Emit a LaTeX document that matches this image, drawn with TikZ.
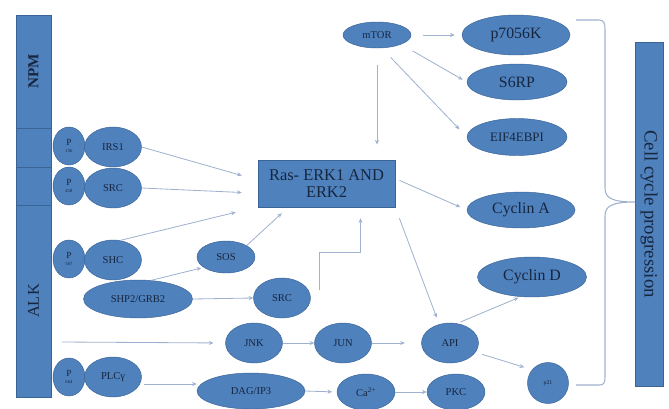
\documentclass[tikz,border=0pt]{standalone}
\usepackage{fontspec}
\setmainfont{Liberation Serif}
\usetikzlibrary{arrows.meta,positioning,shapes.geometric}
\definecolor{fillc}{HTML}{4F81BD}
\definecolor{bordc}{HTML}{3B6496}
\definecolor{arrc}{HTML}{9FB1CE}
\definecolor{txtc}{HTML}{17263F}

\begin{document}
\begin{tikzpicture}[x=0.03cm,y=-0.03cm,
  bub/.style={ellipse,draw=bordc,fill=fillc,inner sep=0pt,text=txtc,font=\fontsize{9}{10}\selectfont},
  mid/.style={bub,minimum width=1.71cm,minimum height=1.2cm},
  big/.style={bub,font=\fontsize{13.5}{15}\selectfont},
  pnode/.style={bub,minimum width=0.96cm,minimum height=1.14cm,align=center,font=\fontsize{8}{6}\selectfont},
  blk/.style={rectangle,draw=bordc,fill=fillc,inner sep=0pt,text=txtc},
  arr/.style={-{Stealth[length=4pt,width=3.5pt]},draw=arrc,line width=0.7pt},
  brk/.style={draw=arrc,line width=0.9pt}]
\useasboundingbox (0,0) rectangle (669,408);

% receptor
\node[blk,rotate=90,minimum width=3.39cm,minimum height=1.05cm,font=\bfseries\fontsize{13}{14}\selectfont] (npm) at (33.5,71.5) {NPM};
\node[blk,minimum width=1.05cm,minimum height=1.17cm] (boxa) at (33.5,147.5) {};
\node[blk,minimum width=1.05cm,minimum height=1.14cm] (boxb) at (33.5,186) {};
\node[blk,rotate=90,minimum width=5.76cm,minimum height=1.05cm,font=\fontsize{14}{15}\selectfont] (alk) at (33.5,301) {ALK};

% docking sites
\node[pnode] (pa) at (69,146) {P\\{\fontsize{4}{4}\selectfont 156}};
\node[mid] (irs) at (113,147) {IRS1};
\node[pnode] (pb) at (69,186) {P\\{\fontsize{4}{4}\selectfont 418}};
\node[mid] (src) at (113,188) {SRC};
\node[pnode] (pc) at (69,259) {P\\{\fontsize{4}{4}\selectfont 567}};
\node[mid] (shc) at (113,260) {SHC};
\node[pnode] (pd) at (69,377) {P\\{\fontsize{4}{4}\selectfont 664}};
\node[mid] (plc) at (113,377) {PLCγ};
\node[bub,minimum width=3.27cm,minimum height=1.14cm] (shp) at (138,299) {SHP2/GRB2};
\node[bub,minimum width=1.74cm,minimum height=0.96cm] (sos) at (226,257) {SOS};
\node[mid] (srcb) at (282,298) {SRC};
\node[mid] (jnk) at (254,343) {JNK};
\node[mid] (jun) at (343,343) {JUN};
\node[mid] (ap) at (450,343) {API};
\node[bub,minimum width=3.24cm,minimum height=1.08cm] (dag) at (251,391) {DAG/IP3};
\node[bub,minimum width=1.74cm,minimum height=1.08cm] (ca) at (366,392) {Ca\textsuperscript{2+}};
\node[bub,minimum width=1.74cm,minimum height=1.08cm] (pkc) at (456,392) {PKC};
\node[blk,minimum width=4.11cm,minimum height=1.41cm,align=center,font=\fontsize{14}{15}\selectfont] (ras) at (326.5,183.5) {Ras- ERK1 AND\\ERK2};

% targets
\node[bub,minimum width=2.04cm,minimum height=0.78cm] (mtor) at (377,35) {mTOR};
\node[big,minimum width=3.24cm,minimum height=1.2cm] (pk) at (516,35) {p7056K};
\node[big,minimum width=3cm,minimum height=1.08cm] (srp) at (517,82) {S6RP};
\node[bub,font=\fontsize{11}{12}\selectfont,minimum width=3cm,minimum height=1.11cm] (eif) at (517,137) {EIF4EBPI};
\node[big,minimum width=3.24cm,minimum height=1.08cm] (cyca) at (521,210) {Cyclin A};
\node[big,minimum width=3.27cm,minimum height=1.2cm] (cycd) at (532,277) {Cyclin D};
\node[bub,circle,minimum size=1.23cm,font=\fontsize{5}{5}\selectfont] (pp) at (548,383) {p21};
\node[blk,rotate=-90,minimum width=10.32cm,minimum height=0.84cm,font=\fontsize{16}{17}\selectfont] (cell) at (649,214) {Cell cycle progression};
\coordinate (alkout) at (62,342);

% arrows into Ras
\draw[arr] (irs.east) -- ([shift={(-16,-8)}]ras.west);
\draw[arr] (src.east) -- ([shift={(-16,9)}]ras.west);
\draw[arr] (shc.70) -- ([shift={(-22,5)}]ras.south west);
\draw[arr] (sos.north east) -- ([shift={(24,6)}]ras.south west);
\draw[arr,shorten >=2pt] (shp.55) -- (sos.205);
\draw[arr] (shp.east) -- (srcb.west);
\draw[arr] ([shift={(9,-8)}]srcb.east) -- ++(0,-38) -| ([shift={(34,11)}]ras.south);
\draw[arr,shorten <=14pt,shorten >=13pt] (mtor.south) -- (mtor.south |- ras.north);

% mTOR
\draw[arr,shorten <=10pt,shorten >=6pt] (mtor.east) -- (pk.west);
\draw[arr,shorten <=11pt,shorten >=4pt] (mtor.south east) -- (srp.west);
\draw[arr,shorten <=11pt,shorten >=9pt] (mtor.-70) -- (eif.west);

% Ras out
\draw[arr,shorten <=4pt,shorten >=6pt] ([shift={(0,-5)}]ras.east) -- (cyca.west);
\draw[arr,shorten <=10pt,shorten >=6pt] (ras.south east) -- (ap.120);
\draw[arr,shorten <=3pt,shorten >=2pt] (ap.70) -- (cycd.240);
\draw[arr,shorten <=6pt,shorten >=7pt] (ap.-20) -- (pp.140);

% lower rows
\draw[arr,shorten >=10pt] (alkout) -- (jnk.west);
\draw[arr] (jnk.east) -- (jun.west);
\draw[arr,shorten >=14pt] (jun.east) -- (ap.west);
\draw[arr] ([shift={(2,7)}]plc.east) -- ([shift={(0,-7)}]dag.west);
\draw[arr,shorten >=4pt] (dag.east) -- (ca.west);
\draw[arr] (ca.east) -- (pkc.west);

% bracket
\draw[brk] (576,20) -- (599,20) .. controls (604,20) and (605,23) .. (605,30) -- (605,188)
  .. controls (605,198) and (612,202) .. (635,202) .. controls (612,202) and (605,206) .. (605,216)
  -- (605,376) .. controls (605,383) and (604,385) .. (599,385) -- (576,385);
\end{tikzpicture}
\end{document}
